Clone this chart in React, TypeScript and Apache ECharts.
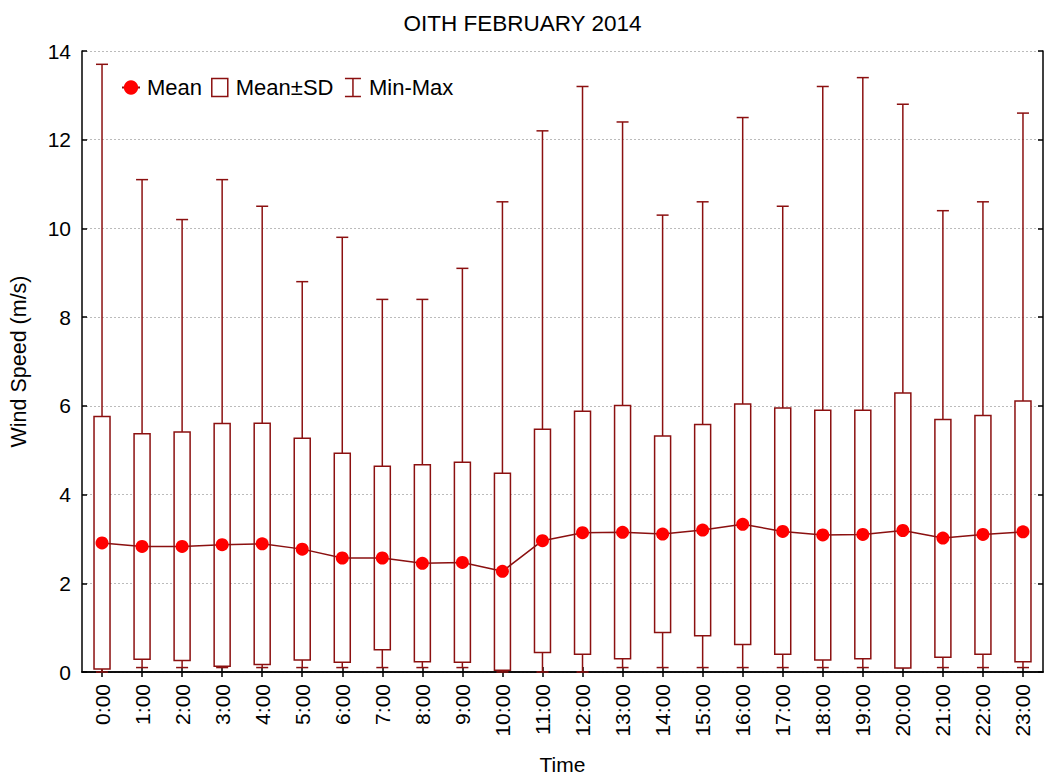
import React, { useEffect, useRef } from "react";
import * as echarts from "echarts";

const hours = ["0:00","1:00","2:00","3:00","4:00","5:00","6:00","7:00","8:00","9:00","10:00","11:00","12:00","13:00","14:00","15:00","16:00","17:00","18:00","19:00","20:00","21:00","22:00","23:00"];
const meanVals = [2.91, 2.83, 2.83, 2.87, 2.89, 2.77, 2.57, 2.57, 2.45, 2.47, 2.27, 2.96, 3.14, 3.15, 3.11, 3.20, 3.33, 3.17, 3.09, 3.10, 3.19, 3.02, 3.10, 3.16];
const sdLow = [0.07, 0.29, 0.26, 0.13, 0.17, 0.27, 0.22, 0.50, 0.23, 0.22, 0.04, 0.44, 0.40, 0.30, 0.89, 0.82, 0.62, 0.40, 0.27, 0.30, 0.09, 0.33, 0.40, 0.23];
const sdHigh = [5.76, 5.37, 5.41, 5.60, 5.61, 5.27, 4.93, 4.64, 4.67, 4.73, 4.48, 5.47, 5.88, 6.01, 5.32, 5.58, 6.04, 5.95, 5.90, 5.90, 6.29, 5.69, 5.78, 6.11];
const minVals = [0.0, 0.1, 0.1, 0.1, 0.1, 0.1, 0.1, 0.1, 0.1, 0.1, 0.0, 0.0, 0.0, 0.1, 0.1, 0.1, 0.1, 0.1, 0.1, 0.1, 0.1, 0.1, 0.1, 0.1];
const maxVals = [13.7, 11.1, 10.2, 11.1, 10.5, 8.8, 9.8, 8.4, 8.4, 9.1, 10.6, 12.2, 13.2, 12.4, 10.3, 10.6, 12.5, 10.5, 13.2, 13.4, 12.8, 10.4, 10.6, 12.6];

const DARK = "#8b1010";
const FONT = "Liberation Sans, Arial, sans-serif";

export default function App() {
  const ref = useRef<HTMLDivElement>(null);
  useEffect(() => {
    if (!ref.current) return;
    const chart = echarts.init(ref.current, null, { renderer: "svg" });
    const whiskerData = hours.map((_, i) => [i, minVals[i], maxVals[i]]);
    const boxData = hours.map((_, i) => [i, sdLow[i], sdHigh[i]]);
    const axisLine = { show: true, lineStyle: { color: "#000", width: 1.5 } };
    const tick = { show: true, inside: true, length: 5, lineStyle: { color: "#000", width: 1.5 } };
    chart.setOption({
      animation: false,
      backgroundColor: "#fff",
      textStyle: { fontFamily: FONT },
      title: {
        text: "OITH FEBRUARY 2014",
        left: "center",
        top: 7,
        textStyle: { fontSize: 22.5, fontWeight: "normal", color: "#000", fontFamily: FONT },
      },
      legend: {
        left: 121,
        top: 76,
        padding: 0,
        itemWidth: 18,
        itemHeight: 18,
        itemGap: 9,
        textStyle: { fontSize: 22, color: "#000", fontFamily: FONT, padding: [0, 0, 0, 2] },
        data: [
          { name: "Mean" },
          { name: "Mean±SD", icon: "path://M0,0 L16,0 L16,18 L0,18 Z", itemStyle: { color: "#fff", borderColor: DARK, borderWidth: 1.5 } },
          { name: "Min-Max", icon: "path://M0,0 L16,0 M8,0 L8,18 M0,18 L16,18", itemStyle: { color: "none", borderColor: DARK, borderWidth: 1.5 } },
        ],
      },
      grid: { left: 82, right: 2, top: 51, bottom: 106, containLabel: false },
      xAxis: [
        {
          type: "category",
          data: hours,
          boundaryGap: true,
          axisLine,
          axisTick: { ...tick, alignWithLabel: true },
          axisLabel: { rotate: 90, fontSize: 21, color: "#000", margin: 12, fontFamily: FONT },
          name: "Time",
          nameLocation: "middle",
          nameGap: 82,
          nameTextStyle: { fontSize: 21, color: "#000", fontFamily: FONT },
          splitLine: { show: false },
        },
        {
          type: "category",
          data: hours,
          position: "top",
          boundaryGap: true,
          axisLine,
          axisTick: { ...tick, alignWithLabel: true },
          axisLabel: { show: false },
          splitLine: { show: false },
        },
      ],
      yAxis: [
        {
          type: "value",
          min: 0,
          max: 14,
          interval: 2,
          axisLine,
          axisTick: tick,
          axisLabel: { fontSize: 21, color: "#000", margin: 11, fontFamily: FONT },
          splitLine: { show: true, lineStyle: { color: "#bbb", type: [2, 2], width: 1 } },
          name: "Wind Speed (m/s)",
          nameLocation: "middle",
          nameGap: 52,
          nameRotate: 90,
          nameTextStyle: { fontSize: 21.5, color: "#000", fontFamily: FONT },
        },
        {
          type: "value",
          min: 0,
          max: 14,
          interval: 2,
          position: "right",
          axisLine,
          axisTick: tick,
          axisLabel: { show: false },
          splitLine: { show: false },
        },
      ],
      series: [
        {
          name: "Min-Max",
          type: "custom",
          z: 2,
          data: whiskerData,
          encode: { x: 0, y: [1, 2] },
          renderItem: (params: any, api: any) => {
            const i = api.value(0);
            const lo = api.coord([i, api.value(1)]);
            const hi = api.coord([i, api.value(2)]);
            const hw = 6;
            const st = { stroke: DARK, lineWidth: 1.5, fill: "none" };
            return {
              type: "group",
              children: [
                { type: "line", shape: { x1: lo[0], y1: lo[1], x2: hi[0], y2: hi[1] }, style: st },
                { type: "line", shape: { x1: hi[0] - hw, y1: hi[1], x2: hi[0] + hw, y2: hi[1] }, style: st },
                { type: "line", shape: { x1: lo[0] - hw, y1: lo[1], x2: lo[0] + hw, y2: lo[1] }, style: st },
              ],
            };
          },
        },
        {
          name: "Mean±SD",
          type: "custom",
          z: 3,
          data: boxData,
          encode: { x: 0, y: [1, 2] },
          renderItem: (params: any, api: any) => {
            const i = api.value(0);
            const lo = api.coord([i, api.value(1)]);
            const hi = api.coord([i, api.value(2)]);
            const hw = 8;
            return {
              type: "rect",
              shape: { x: lo[0] - hw, y: hi[1], width: hw * 2, height: lo[1] - hi[1] },
              style: { fill: "#fff", stroke: DARK, lineWidth: 1.5 },
            };
          },
        },
        {
          name: "Mean",
          type: "line",
          z: 4,
          data: meanVals,
          symbol: "circle",
          symbolSize: 13,
          itemStyle: { color: "#ff0000" },
          lineStyle: { color: DARK, width: 1.5 },
        },
      ],
    });
    return () => chart.dispose();
  }, []);
  return <div ref={ref} style={{ position: "fixed", left: 0, top: 0, width: 1045, height: 780 }} />;
}
